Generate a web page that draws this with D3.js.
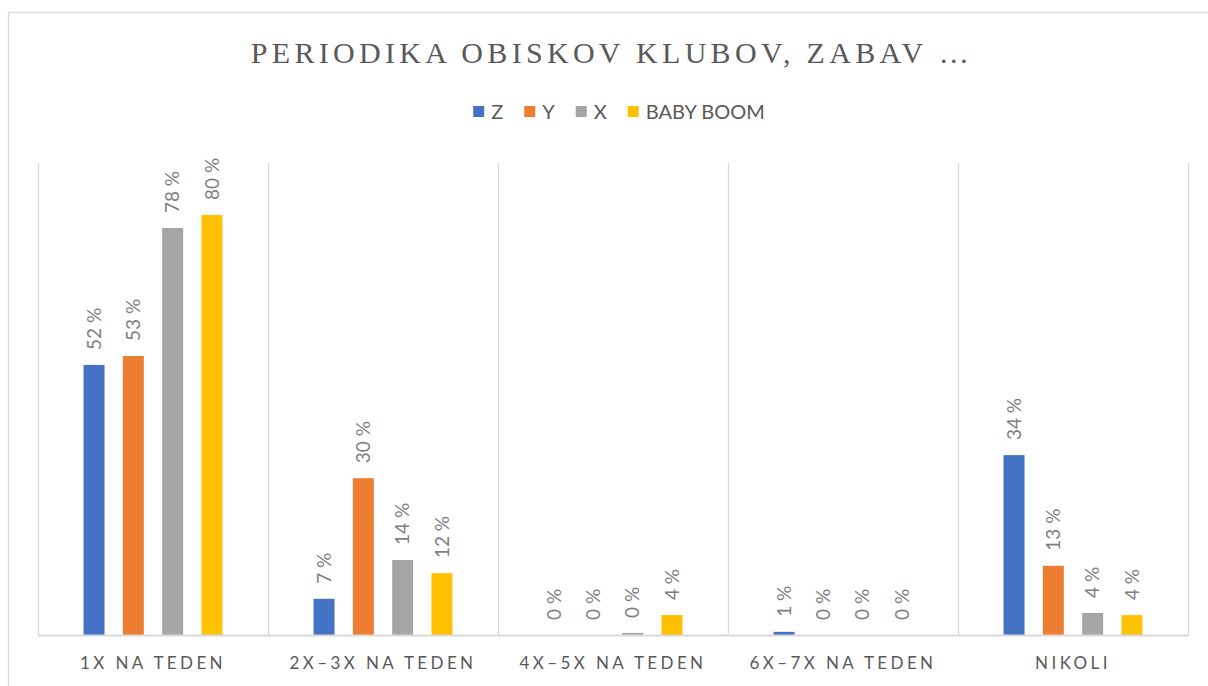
<!DOCTYPE html>
<html>
<head>
<meta charset="utf-8">
<script src="https://cdn.jsdelivr.net/npm/d3@7"></script>
<style>
  html, body { margin: 0; padding: 0; background: #fff; }
  svg { display: block; }
</style>
</head>
<body>
<svg id="chart" width="1208" height="686"></svg>
<script>
const title = "PERIODIKA OBISKOV KLUBOV, ZABAV …";
const categories = ["1X NA TEDEN", "2X–3X NA TEDEN", "4X–5X NA TEDEN", "6X–7X NA TEDEN", "NIKOLI"];
const seriesNames = ["Z", "Y", "X", "BABY BOOM"];
const seriesColors = ["#4472C4", "#ED7D31", "#A5A5A5", "#FFC000"];
const valuesZ = [51.5, 6.9, 0, 0.6, 34.3];
const valuesY = [53.2, 29.9, 0, 0, 13.2];
const valuesX = [77.6, 14.3, 0.4, 0, 4.2];
const valuesBB = [80.1, 11.8, 3.8, 0, 3.8];
const allValues = [valuesZ, valuesY, valuesX, valuesBB];

const svg = d3.select("#chart");
const textColor = "#595959";
const gridColor = "#d9d9d9";

// outer chart border
svg.append("rect")
  .attr("x", 8.5).attr("y", 12.5)
  .attr("width", 1240).attr("height", 700)
  .attr("fill", "none").attr("stroke", gridColor).attr("stroke-width", 1.3);

const plot = { left: 38, right: 1188, top: 163, bottom: 635 };

const x0 = d3.scaleBand().domain(categories).range([plot.left, plot.right]).padding(0);
const x1 = d3.scaleBand().domain(seriesNames).range([0, x0.bandwidth()])
  .paddingInner(0.466).paddingOuter(1.158);
const y = d3.scaleLinear().domain([0, 90]).range([plot.bottom, plot.top]);

// title
svg.append("text")
  .attr("x", 612).attr("y", 63)
  .attr("text-anchor", "middle")
  .attr("font-family", "'Liberation Serif', 'Times New Roman', serif")
  .attr("font-size", 30)
  .attr("letter-spacing", 4.3)
  .attr("fill", textColor)
  .text(title);

// legend
const legend = svg.append("g").attr("font-family", "Lato, 'Open Sans', sans-serif").attr("font-size", 20).attr("fill", textColor);
const items = [];
seriesNames.forEach((name, i) => {
  const g = legend.append("g");
  g.append("rect").attr("width", 11).attr("height", 11).attr("y", -13).attr("fill", seriesColors[i]);
  const t = g.append("text").attr("x", 18).attr("y", 0).text(name);
  items.push({ g, w: 18 + t.node().getComputedTextLength() });
});
const gap = 21;
const totalW = d3.sum(items, d => d.w) + gap * (items.length - 1);
let lx = 619 - totalW / 2;
items.forEach(it => { it.g.attr("transform", `translate(${lx},119)`); lx += it.w + gap; });

// vertical gridlines at category boundaries
const bounds = categories.map(c => x0(c)).concat([plot.right]);
svg.append("g").selectAll("line").data(bounds).join("line")
  .attr("x1", d => d + 0.5).attr("x2", d => d + 0.5)
  .attr("y1", plot.top).attr("y2", plot.bottom)
  .attr("stroke", gridColor).attr("stroke-width", 1.3);

// bars
const groups = svg.append("g").selectAll("g").data(categories).join("g")
  .attr("transform", c => `translate(${x0(c)},0)`);

groups.each(function(c, ci) {
  const g = d3.select(this);
  seriesNames.forEach((s, si) => {
    const v = allValues[si][ci];
    g.append("rect")
      .attr("x", x1(s)).attr("width", x1.bandwidth())
      .attr("y", y(v)).attr("height", y(0) - y(v))
      .attr("fill", seriesColors[si]);
    const lxp = x1(s) + x1.bandwidth() / 2;
    const lyp = y(v) - 15;
    g.append("text")
      .attr("transform", `translate(${lxp},${lyp}) rotate(-90)`)
      .attr("dy", "0.35em")
      .attr("text-anchor", "start")
      .attr("font-family", "Lato, 'Open Sans', sans-serif")
      .attr("font-size", 19)
      .attr("fill", "#7f7f7f")
      .text(Math.round(v) + " %");
  });
});

// baseline
svg.append("line")
  .attr("x1", plot.left).attr("x2", plot.right + 1)
  .attr("y1", plot.bottom + 0.5).attr("y2", plot.bottom + 0.5)
  .attr("stroke", gridColor).attr("stroke-width", 1.8);

// category axis labels
const xAxis = d3.axisBottom(x0).tickSize(0).tickPadding(0);
const ax = svg.append("g").attr("transform", `translate(0,${plot.bottom})`).call(xAxis);
ax.select(".domain").remove();
ax.selectAll("text")
  .attr("y", 34)
  .attr("dy", 0)
  .attr("font-family", "Lato, 'Open Sans', sans-serif")
  .attr("font-size", 17)
  .attr("letter-spacing", 3.4)
  .attr("fill", textColor);
</script>
</body>
</html>
